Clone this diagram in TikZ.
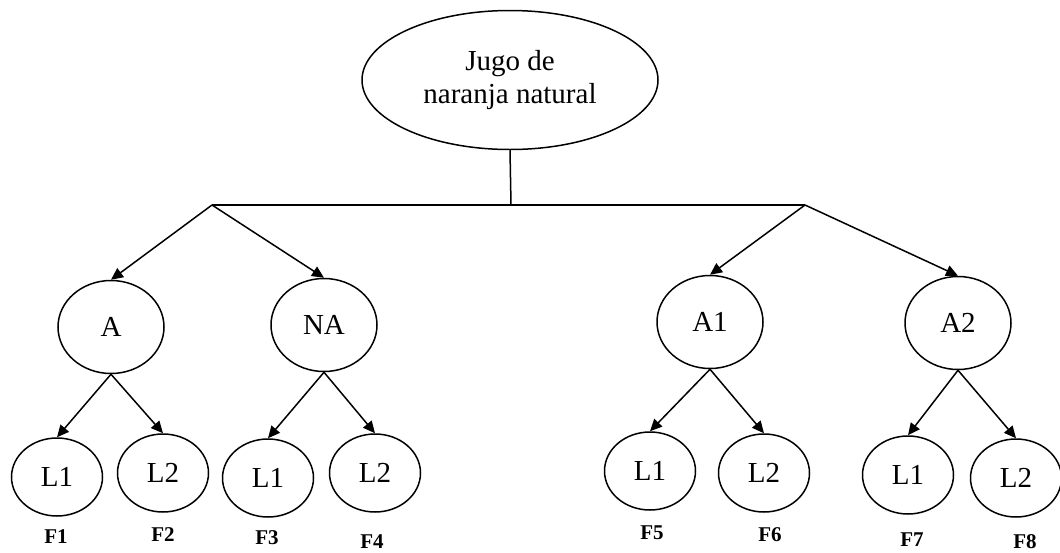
\documentclass[tikz,border=0pt]{standalone}
\usepackage{fontspec}
\setmainfont{Liberation Serif}
\usetikzlibrary{shapes.geometric,arrows.meta}
\begin{document}
\begin{tikzpicture}[x=1pt,y=-1pt,
  line width=1.5pt,
  oval/.style={draw,ellipse,inner sep=0pt,font=\fontsize{29}{33}\selectfont},
  big/.style={oval,minimum width=296pt,minimum height=139pt,align=center},
  mid/.style={oval,minimum width=106pt,minimum height=93pt},
  leaf/.style={oval,minimum width=91pt,minimum height=78pt},
  tag/.style={font=\fontsize{21}{24}\selectfont\bfseries},
  arr/.style={-{Triangle[length=12pt,width=11pt]}}]
\useasboundingbox (0,0) rectangle (1060,552);

% root
\node[big] (root) at (510,80) {\raisebox{-4pt}{\begin{tabular}{@{}c@{}}Jugo de\\naranja natural\end{tabular}}};

% branching points
\coordinate (jc) at (511,205);
\coordinate (jl) at (212,205);
\coordinate (jr) at (805,205);

% second level
\node[mid] (a)  at (111,327) {A};
\node[mid] (na) at (324,325) {NA};
\node[mid] (a1) at (710,322) {A1};
\node[mid] (a2) at (958,323) {A2};

% leaves
\node[leaf] (l1) at (57,477)  {L1};
\node[leaf] (l2) at (163,473) {L2};
\node[leaf] (l3) at (268,478) {L1};
\node[leaf] (l4) at (375,473) {L2};
\node[leaf] (l5) at (650,471) {L1};
\node[leaf] (l6) at (764,473) {L2};
\node[leaf] (l7) at (908,475) {L1};
\node[leaf] (l8) at (1016,478) {L2};

% leaf labels
\node[tag] (f1) at (56,537)  {F1};
\node[tag] (f2) at (163,535) {F2};
\node[tag] (f3) at (267,538) {F3};
\node[tag] (f4) at (372,542) {F4};
\node[tag] (f5) at (652,533) {F5};
\node[tag] (f6) at (770,535) {F6};
\node[tag] (f7) at (912,540) {F7};
\node[tag] (f8) at (1025,542) {F8};

% connectors
\draw (root.south) -- (jc);
\draw (jl) -- (jr);
\draw[arr] (jl) -- (a.north);
\draw[arr] (jl) -- (na.north);
\draw[arr] (jr) -- (a1.north);
\draw[arr] (jr) -- (a2.north);

\draw[arr] (a.south)  -- (l1.north);
\draw[arr] (a.south)  -- (l2.north);
\draw[arr] (na.south) -- (l3.north);
\draw[arr] (na.south) -- (l4.north);
\draw[arr] (a1.south) -- (l5.north);
\draw[arr] (a1.south) -- (l6.north);
\draw[arr] (a2.south) -- (l7.north);
\draw[arr] (a2.south) -- (l8.north);
\end{tikzpicture}
\end{document}
